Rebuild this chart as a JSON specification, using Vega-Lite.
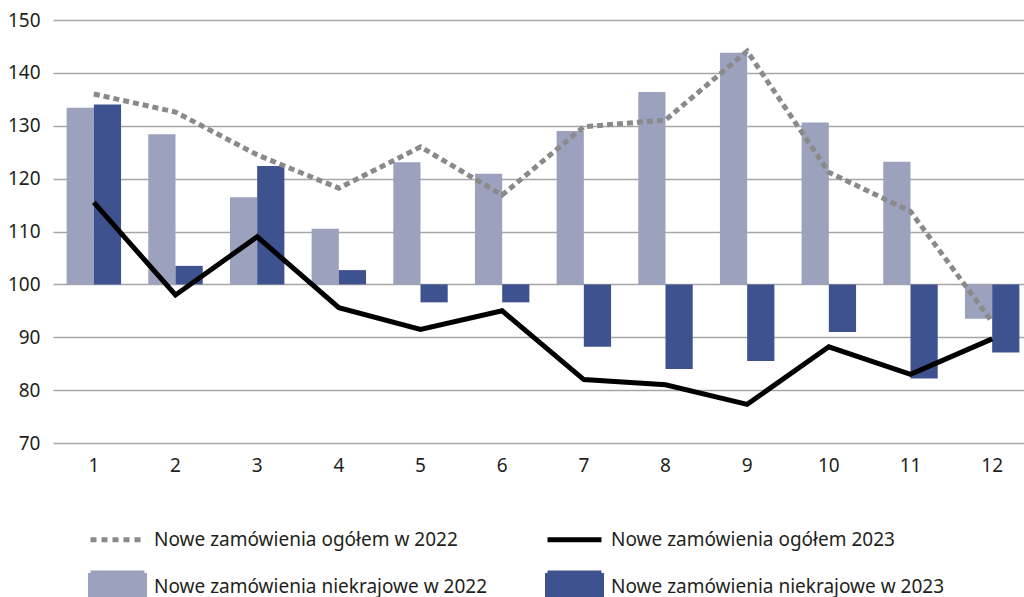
{
  "$schema": "https://vega.github.io/schema/vega-lite/v6.json",
  "width": 971,
  "height": 423,
  "autosize": {"type": "none"},
  "padding": {"left": 53, "top": 20, "right": 0, "bottom": 154},
  "config": {
    "view": {"stroke": null},
    "font": "Noto Sans",
    "axis": {"labelFont": "Noto Sans", "labelColor": "#231f20", "labelFontSize": 19, "domain": false, "ticks": false, "title": null}
  },
  "datasets": {
    "d": [
      {"m": 1, "s": "Nowe zamówienia ogółem w 2022", "v": 136},
      {"m": 2, "s": "Nowe zamówienia ogółem w 2022", "v": 132.6},
      {"m": 3, "s": "Nowe zamówienia ogółem w 2022", "v": 124.5},
      {"m": 4, "s": "Nowe zamówienia ogółem w 2022", "v": 118.2},
      {"m": 5, "s": "Nowe zamówienia ogółem w 2022", "v": 126},
      {"m": 6, "s": "Nowe zamówienia ogółem w 2022", "v": 116.9},
      {"m": 7, "s": "Nowe zamówienia ogółem w 2022", "v": 129.8},
      {"m": 8, "s": "Nowe zamówienia ogółem w 2022", "v": 131.1},
      {"m": 9, "s": "Nowe zamówienia ogółem w 2022", "v": 144.1},
      {"m": 10, "s": "Nowe zamówienia ogółem w 2022", "v": 121.2},
      {"m": 11, "s": "Nowe zamówienia ogółem w 2022", "v": 113.8},
      {"m": 12, "s": "Nowe zamówienia ogółem w 2022", "v": 92.9},
      {"m": 1, "s": "Nowe zamówienia ogółem 2023", "v": 115.5},
      {"m": 2, "s": "Nowe zamówienia ogółem 2023", "v": 98},
      {"m": 3, "s": "Nowe zamówienia ogółem 2023", "v": 109},
      {"m": 4, "s": "Nowe zamówienia ogółem 2023", "v": 95.6},
      {"m": 5, "s": "Nowe zamówienia ogółem 2023", "v": 91.5},
      {"m": 6, "s": "Nowe zamówienia ogółem 2023", "v": 95},
      {"m": 7, "s": "Nowe zamówienia ogółem 2023", "v": 82},
      {"m": 8, "s": "Nowe zamówienia ogółem 2023", "v": 81},
      {"m": 9, "s": "Nowe zamówienia ogółem 2023", "v": 77.3},
      {"m": 10, "s": "Nowe zamówienia ogółem 2023", "v": 88.2},
      {"m": 11, "s": "Nowe zamówienia ogółem 2023", "v": 83},
      {"m": 12, "s": "Nowe zamówienia ogółem 2023", "v": 89.7},
      {"m": 1, "s": "Nowe zamówienia niekrajowe w 2022", "v": 133.4},
      {"m": 2, "s": "Nowe zamówienia niekrajowe w 2022", "v": 128.4},
      {"m": 3, "s": "Nowe zamówienia niekrajowe w 2022", "v": 116.5},
      {"m": 4, "s": "Nowe zamówienia niekrajowe w 2022", "v": 110.5},
      {"m": 5, "s": "Nowe zamówienia niekrajowe w 2022", "v": 123.1},
      {"m": 6, "s": "Nowe zamówienia niekrajowe w 2022", "v": 120.9},
      {"m": 7, "s": "Nowe zamówienia niekrajowe w 2022", "v": 129},
      {"m": 8, "s": "Nowe zamówienia niekrajowe w 2022", "v": 136.4},
      {"m": 9, "s": "Nowe zamówienia niekrajowe w 2022", "v": 143.8},
      {"m": 10, "s": "Nowe zamówienia niekrajowe w 2022", "v": 130.6},
      {"m": 11, "s": "Nowe zamówienia niekrajowe w 2022", "v": 123.2},
      {"m": 12, "s": "Nowe zamówienia niekrajowe w 2022", "v": 93.5},
      {"m": 1, "s": "Nowe zamówienia niekrajowe w 2023", "v": 134},
      {"m": 2, "s": "Nowe zamówienia niekrajowe w 2023", "v": 103.5},
      {"m": 3, "s": "Nowe zamówienia niekrajowe w 2023", "v": 122.4},
      {"m": 4, "s": "Nowe zamówienia niekrajowe w 2023", "v": 102.7},
      {"m": 5, "s": "Nowe zamówienia niekrajowe w 2023", "v": 96.6},
      {"m": 6, "s": "Nowe zamówienia niekrajowe w 2023", "v": 96.6},
      {"m": 7, "s": "Nowe zamówienia niekrajowe w 2023", "v": 88.2},
      {"m": 8, "s": "Nowe zamówienia niekrajowe w 2023", "v": 84},
      {"m": 9, "s": "Nowe zamówienia niekrajowe w 2023", "v": 85.5},
      {"m": 10, "s": "Nowe zamówienia niekrajowe w 2023", "v": 91},
      {"m": 11, "s": "Nowe zamówienia niekrajowe w 2023", "v": 82.2},
      {"m": 12, "s": "Nowe zamówienia niekrajowe w 2023", "v": 87.1}
    ]
  },
  "data": {"name": "d"},
  "encoding": {
    "x": {
      "field": "m", "type": "ordinal",
      "scale": {"range": [0, 980], "paddingInner": 0, "paddingOuter": 0},
      "axis": {"labelAngle": 0, "labelPadding": 13, "grid": false}
    },
    "y": {
      "field": "v", "type": "quantitative",
      "scale": {"domain": [70, 150], "nice": false, "zero": false},
      "axis": {"values": [70, 80, 90, 100, 110, 120, 130, 140, 150], "grid": true, "gridColor": "#a6a6a6", "gridWidth": 1.5, "labelPadding": 13}
    },
    "color": {
      "field": "s", "type": "nominal",
      "scale": {
        "domain": ["Nowe zamówienia ogółem w 2022", "Nowe zamówienia niekrajowe w 2022", "Nowe zamówienia ogółem 2023", "Nowe zamówienia niekrajowe w 2023"],
        "range": ["#8a8a8a", "#9ca1bd", "#000000", "#3f5290"]
      },
      "legend": {
        "title": null,
        "orient": "none",
        "legendX": 35,
        "legendY": 490,
        "columns": 2,
        "columnPadding": 50,
        "rowPadding": 7,
        "padding": 0,
        "symbolSize": 2916,
        "labelFontSize": 19,
        "labelFont": "Noto Sans",
        "labelColor": "#231f20",
        "labelOffset": 7,
        "labelLimit": 500,
        "encode": {
          "symbols": {
            "update": {
              "shape": {"signal": "indexof(datum.value, 'ogółem') >= 0 ? 'stroke' : 'M-1,-0.5H1V0.5H-1Z'"},
              "fill": {"signal": "indexof(datum.value, 'ogółem') >= 0 ? 'transparent' : scale('color', datum.value)"},
              "stroke": {"signal": "indexof(datum.value, 'ogółem') >= 0 ? scale('color', datum.value) : 'transparent'"},
              "strokeWidth": {"value": 5},
              "strokeDash": {"signal": "datum.value == 'Nowe zamówienia ogółem w 2022' ? [6, 5] : [1, 0]"},
              "opacity": {"value": 1},
              "size": {"value": 2916}
            }
          }
        }
      }
    }
  },
  "layer": [
    {
      "transform": [{"filter": "indexof(datum.s, 'niekrajowe') >= 0"}],
      "mark": {"type": "bar", "opacity": 1},
      "encoding": {
        "xOffset": {"field": "s", "type": "nominal", "scale": {"domain": ["Nowe zamówienia niekrajowe w 2022", "Nowe zamówienia niekrajowe w 2023"], "paddingInner": 0, "paddingOuter": 0.5}},
        "y2": {"datum": 100}
      }
    },
    {
      "transform": [{"filter": "datum.s == 'Nowe zamówienia ogółem w 2022'"}],
      "mark": {"type": "line", "strokeWidth": 5, "strokeDash": [6, 4], "strokeCap": "butt"}
    },
    {
      "transform": [{"filter": "datum.s == 'Nowe zamówienia ogółem 2023'"}],
      "mark": {"type": "line", "strokeWidth": 5, "strokeCap": "butt", "strokeJoin": "miter"}
    }
  ]
}
